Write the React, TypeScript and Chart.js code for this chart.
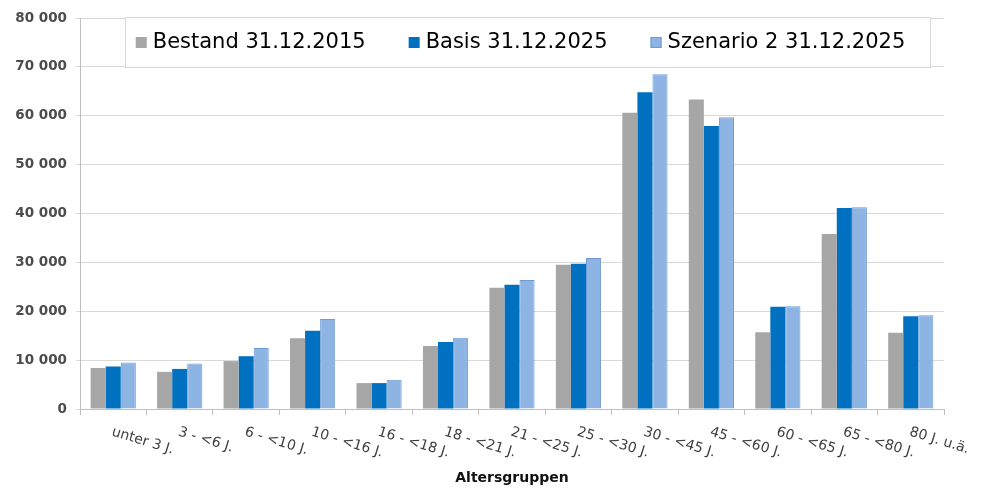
import React, { useEffect, useRef } from "react";
import { Chart, registerables } from "chart.js";

Chart.register(...registerables);

const categories = [
  "unter 3 J.",
  "3 - <6 J.",
  "6 - <10 J.",
  "10 - <16 J.",
  "16 - <18 J.",
  "18 - <21 J.",
  "21 - <25 J.",
  "25 - <30 J.",
  "30 - <45 J.",
  "45 - <60 J.",
  "60 - <65 J.",
  "65 - <80 J.",
  "80 J. u.ä.",
];
const seriesNames = ["Bestand 31.12.2015", "Basis 31.12.2025", "Szenario 2 31.12.2025"];
const bestand2015 = [8400, 7600, 9800, 14500, 5300, 12900, 24800, 29500, 60600, 63300, 15700, 35800, 15600];
const basis2025 = [8700, 8200, 10800, 16000, 5300, 13700, 25400, 29700, 64800, 57900, 20900, 41100, 19000];
const szenario2025 = [9500, 9300, 12500, 18400, 6000, 14600, 26400, 30900, 68500, 59700, 21000, 41300, 19200];
const axisTitle = "Altersgruppen";

const fmt = (v: number) => String(v).replace(/\B(?=(\d{3})+(?!\d))/g, " ");

const customPlugin = {
  id: "customDecor",
  afterDraw(chart: any) {
    const ctx = chart.ctx;
    const area = chart.chartArea;
    const x = chart.scales.x;
    const y = chart.scales.y;

    // rotated category labels
    ctx.save();
    ctx.font = "14px 'DejaVu Sans'";
    ctx.fillStyle = "#404040";
    ctx.textAlign = "left";
    ctx.textBaseline = "top";
    categories.forEach((lab, i) => {
      const px = x.getPixelForValue(i);
      ctx.save();
      ctx.translate(px + 1, area.bottom + 16);
      ctx.rotate((17 * Math.PI) / 180);
      ctx.fillText(lab, 0, 0);
      ctx.restore();
    });
    ctx.restore();

    // legend box
    const boxL = area.left + 45;
    const boxR = area.right - 14;
    const boxT = area.top - 1;
    const boxB = y.getPixelForValue(70000);
    ctx.save();
    ctx.fillStyle = "#ffffff";
    ctx.fillRect(boxL, boxT, boxR - boxL, boxB - boxT);
    ctx.strokeStyle = "#d9d9d9";
    ctx.lineWidth = 1;
    ctx.strokeRect(Math.round(boxL) + 0.5, Math.round(boxT) + 0.5, Math.round(boxR - boxL), Math.round(boxB - boxT));

    ctx.font = "21px 'DejaVu Sans'";
    ctx.textAlign = "left";
    ctx.textBaseline = "alphabetic";
    const marker = 11;
    const gap = 6;
    const itemGap = 43;
    const widths = chart.data.datasets.map((d: any) => ctx.measureText(d.label).width);
    const total = widths.reduce((a: number, w: number) => a + marker + gap + w, 0) + itemGap * (widths.length - 1);
    let cx = (boxL + boxR) / 2 - 7 - total / 2;
    const baseY = boxT + 31;
    chart.data.datasets.forEach((d: any, i: number) => {
      ctx.fillStyle = d.backgroundColor;
      ctx.fillRect(cx, baseY - 11, marker, marker);
      if (d.borderWidth) {
        ctx.strokeStyle = d.borderColor;
        ctx.strokeRect(cx + 0.5, baseY - 10.5, marker - 1, marker - 1);
      }
      ctx.fillStyle = "#000000";
      ctx.fillText(d.label, cx + marker + gap, baseY);
      cx += marker + gap + widths[i] + itemGap;
    });
    ctx.restore();
  },
};

export default function App() {
  const ref = useRef<HTMLCanvasElement>(null);
  useEffect(() => {
    if (!ref.current) return;
    const chart = new Chart(ref.current, {
      type: "bar",
      data: {
        labels: categories,
        datasets: [
          {
            label: seriesNames[0],
            data: bestand2015,
            backgroundColor: "#a6a6a6",
            borderWidth: 0,
          },
          {
            label: seriesNames[1],
            data: basis2025,
            backgroundColor: "#0070c0",
            borderWidth: 0,
          },
          {
            label: seriesNames[2],
            data: szenario2025,
            backgroundColor: "#8eb4e3",
            borderColor: "#6f9bd4",
            borderWidth: 1,
          },
        ],
      },
      options: {
        responsive: true,
        maintainAspectRatio: false,
        animation: false,
        layout: { padding: { top: 18, right: 42, left: 0, bottom: 0 } },
        plugins: {
          legend: { display: false },
          tooltip: { enabled: false },
          title: { display: false },
        },
        datasets: {
          bar: { categoryPercentage: 0.68, barPercentage: 1 },
        },
        scales: {
          x: {
            offset: true,
            grid: {
              offset: true,
              drawOnChartArea: false,
              drawTicks: true,
              tickLength: 6,
              color: "#bfbfbf",
            },
            border: { display: true, color: "#bfbfbf" },
            ticks: { display: false, autoSkip: false },
            title: {
              display: true,
              text: axisTitle,
              color: "#111111",
              font: { family: "'DejaVu Sans'", size: 14, weight: "bold" },
              padding: { top: 2, bottom: 2 },
            },
            afterFit(scale: any) {
              scale.height = 80;
            },
          },
          y: {
            min: 0,
            max: 80000,
            ticks: {
              stepSize: 10000,
              padding: 9,
              color: "#4d4d4d",
              font: { family: "'DejaVu Sans'", size: 13.5, weight: "bold" },
              callback: (v: any) => fmt(Number(v)),
            },
            grid: { color: "#d9d9d9", tickLength: 4, drawTicks: true },
            border: { display: true, color: "#bfbfbf" },
            afterFit(scale: any) {
              scale.width = 80;
            },
          },
        },
      },
      plugins: [customPlugin],
    });
    return () => chart.destroy();
  }, []);
  return (
    <div style={{ position: "fixed", left: 0, top: 0, width: 986, height: 489, background: "#fff" }}>
      <canvas ref={ref} />
    </div>
  );
}
